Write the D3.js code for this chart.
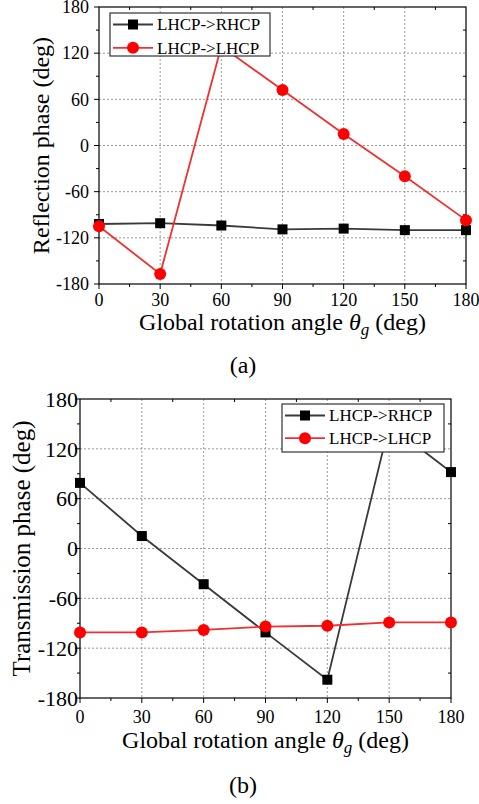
<!DOCTYPE html>
<html>
<head>
<meta charset="utf-8">
<script src="https://cdn.jsdelivr.net/npm/d3@7"></script>
<style>
  body { margin: 0; background: #fff; }
  svg text { font-family: "Liberation Serif", "Times New Roman", Tinos, Times; }
</style>
</head>
<body>
<svg width="479" height="804"></svg>
<script>
// data
const angles = [0, 30, 60, 90, 120, 150, 180];
const reflCross = [-102, -101, -104, -109, -108, -110, -110]; // LHCP->RHCP
const reflCo = [-105, -167, 129, 72, 15, -40, -97];           // LHCP->LHCP
const transCross = [79, 15, -43, -101, -158, 149, 92];
const transCo = [-101, -101, -98, -94, -93, -89, -89];
const xTicks = [0, 30, 60, 90, 120, 150, 180];
const yTicks = [-180, -120, -60, 0, 60, 120, 180];
const seriesNames = ['LHCP->RHCP', 'LHCP->LHCP'];

const svg = d3.select('svg');

const panels = [
  {id: 'a', box: {l: 99, r: 466, t: 7, b: 284}, yTitle: 'Reflection phase (deg)', yTitleX: 41,
   yTitleSize: 24, yTickSize: 18, tickGap: 10, xTickY: 306, xTitleY: 330, capY: 373,
   cross: reflCross, co: reflCo,
   legend: {x: 110, y: 13, w: 160, h: 43, row: 23.3}},
  {id: 'b', box: {l: 80, r: 451, t: 399, b: 698}, yTitle: 'Transmission phase (deg)', yTitleX: 21,
   yTitleSize: 25, yTickSize: 22, tickGap: 2, xTickY: 723, xTitleY: 748, capY: 793,
   cross: transCross, co: transCo,
   legend: {x: 282, y: 404, w: 162, h: 48, row: 22.7}}
];

panels.forEach(drawPanel);

function drawPanel(p) {
  const b = p.box;
  const x = d3.scaleLinear().domain([0, 180]).range([b.l, b.r]);
  const y = d3.scaleLinear().domain([-180, 180]).range([b.b, b.t]);
  const g = svg.append('g');

  // grid
  g.append('g').selectAll('line.gx')
    .data(xTicks.slice(1, -1))
    .join('line')
    .attr('x1', d => x(d)).attr('x2', d => x(d))
    .attr('y1', b.t).attr('y2', b.b)
    .attr('stroke', '#999').attr('stroke-dasharray', '2,2');
  g.append('g').selectAll('line.gy')
    .data(yTicks.slice(1, -1))
    .join('line')
    .attr('y1', d => y(d)).attr('y2', d => y(d))
    .attr('x1', b.l).attr('x2', b.r)
    .attr('stroke', '#999').attr('stroke-dasharray', '2,2');

  // axes: left/bottom outward, top/right inward
  const xMinor = d3.range(15, 180, 30);
  const yMinor = d3.range(-150, 180, 60);
  const axisG = g.append('g').attr('stroke', '#000').attr('stroke-width', 1);
  xTicks.forEach(v => {
    axisG.append('line').attr('x1', x(v)).attr('x2', x(v)).attr('y1', b.b).attr('y2', b.b + 5);
  });
  xMinor.forEach(v => {
    axisG.append('line').attr('x1', x(v)).attr('x2', x(v)).attr('y1', b.b).attr('y2', b.b + 3);
    axisG.append('line').attr('x1', x(v)).attr('x2', x(v)).attr('y1', b.t).attr('y2', b.t + 3);
  });
  yTicks.forEach(v => {
    axisG.append('line').attr('y1', y(v)).attr('y2', y(v)).attr('x1', b.l - 5).attr('x2', b.l);
  });
  yMinor.forEach(v => {
    axisG.append('line').attr('y1', y(v)).attr('y2', y(v)).attr('x1', b.l - 3).attr('x2', b.l);
    axisG.append('line').attr('y1', y(v)).attr('y2', y(v)).attr('x1', b.r - 3).attr('x2', b.r);
  });
  g.append('rect')
    .attr('x', b.l).attr('y', b.t)
    .attr('width', b.r - b.l).attr('height', b.b - b.t)
    .attr('fill', 'none').attr('stroke', '#000').attr('stroke-width', 1.2);

  // tick labels
  g.append('g').selectAll('text')
    .data(xTicks)
    .join('text')
    .attr('x', d => x(d)).attr('y', p.xTickY)
    .attr('text-anchor', 'middle').attr('font-size', 18)
    .text(d => d);
  g.append('g').selectAll('text')
    .data(yTicks)
    .join('text')
    .attr('x', b.l - p.tickGap).attr('y', d => y(d))
    .attr('dy', '0.35em')
    .attr('text-anchor', 'end').attr('font-size', p.yTickSize)
    .text(d => d);

  // titles
  const xt = g.append('text')
    .attr('x', (b.l + b.r) / 2).attr('y', p.xTitleY)
    .attr('text-anchor', 'middle').attr('font-size', 24);
  xt.append('tspan').text('Global rotation angle ');
  xt.append('tspan').attr('font-style', 'italic').text('θ');
  xt.append('tspan').attr('font-style', 'italic').attr('font-size', 17).attr('dy', 5).text('g');
  xt.append('tspan').attr('dy', -5).text(' (deg)');

  g.append('text')
    .attr('transform', `translate(${p.yTitleX},${(b.t + b.b) / 2}) rotate(-90)`)
    .attr('text-anchor', 'middle').attr('dy', '0.35em').attr('font-size', p.yTitleSize)
    .text(p.yTitle);

  g.append('text')
    .attr('x', 243).attr('y', p.capY)
    .attr('text-anchor', 'middle').attr('font-size', 24)
    .text(`(${p.id})`);

  // series
  const clipId = 'clip-' + p.id;
  svg.append('clipPath').attr('id', clipId)
    .append('rect')
    .attr('x', b.l - 7).attr('y', b.t).attr('width', b.r - b.l + 14).attr('height', b.b - b.t);
  const plot = g.append('g').attr('clip-path', `url(#${clipId})`);
  const line = d3.line().x(d => x(d[0])).y(d => y(d[1]));

  const series = [
    {vals: p.cross, stroke: '#3a3a3a', fill: '#000', shape: 'square'},
    {vals: p.co, stroke: '#f03030', fill: '#ff0000', shape: 'circle'}
  ];
  series.forEach(s => {
    const pts = angles.map((a, i) => [a, s.vals[i]]);
    plot.append('path')
      .attr('d', line(pts))
      .attr('fill', 'none').attr('stroke', s.stroke).attr('stroke-width', 1.8);
  });
  series.forEach(s => {
    const pts = angles.map((a, i) => [a, s.vals[i]]);
    drawMarkers(plot, pts.map(d => [x(d[0]), y(d[1])]), s);
  });

  // legend
  const L = p.legend;
  const lg = g.append('g');
  lg.append('rect')
    .attr('x', L.x).attr('y', L.y).attr('width', L.w).attr('height', L.h)
    .attr('fill', '#fff').attr('stroke', '#333').attr('stroke-width', 1.2);
  series.forEach((s, i) => {
    const cy = L.y + 11.5 + i * L.row;
    lg.append('line')
      .attr('x1', L.x + 3).attr('x2', L.x + 43).attr('y1', cy).attr('y2', cy)
      .attr('stroke', s.stroke).attr('stroke-width', 1.8);
    drawMarkers(lg, [[L.x + 23, cy]], s);
    lg.append('text')
      .attr('x', L.x + 47).attr('y', cy).attr('dy', '0.35em')
      .attr('font-size', 17)
      .text(seriesNames[i]);
  });
}

function drawMarkers(sel, pts, s) {
  if (s.shape === 'square') {
    sel.append('g').selectAll('rect')
      .data(pts)
      .join('rect')
      .attr('x', d => d[0] - 5).attr('y', d => d[1] - 5)
      .attr('width', 10).attr('height', 10)
      .attr('fill', s.fill);
  } else {
    sel.append('g').selectAll('circle')
      .data(pts)
      .join('circle')
      .attr('cx', d => d[0]).attr('cy', d => d[1]).attr('r', 6)
      .attr('fill', s.fill);
  }
}
</script>
</body>
</html>
